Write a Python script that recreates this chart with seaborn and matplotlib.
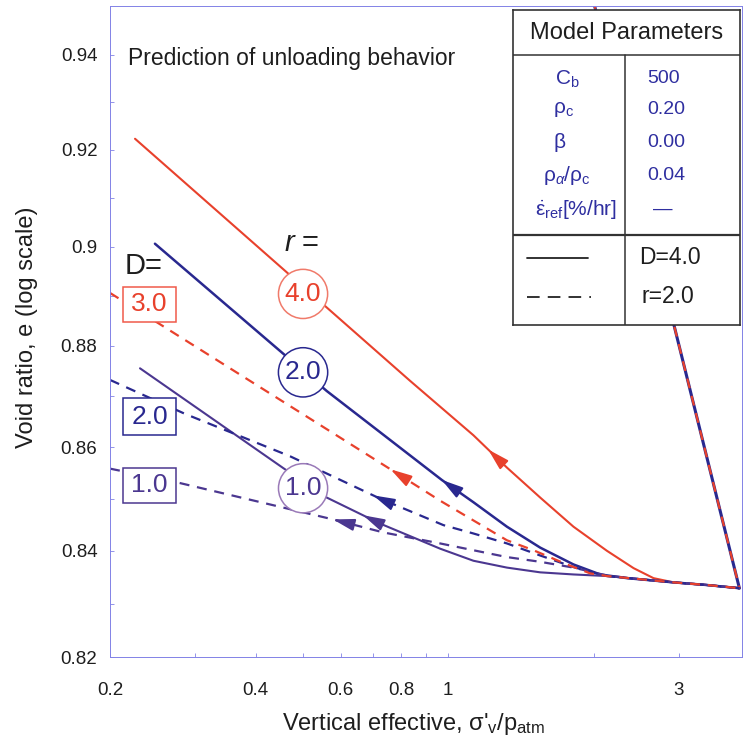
import numpy as np
import pandas as pd
import matplotlib
matplotlib.use("Agg")
import matplotlib.pyplot as plt
from matplotlib.patches import Rectangle
from matplotlib.ticker import FixedLocator, FixedFormatter, NullLocator
import seaborn as sns

# ---------------------------------------------------------------------------
# Data: vertical effective stress ratio (sigma'_v / p_atm) and void ratio e
# ---------------------------------------------------------------------------
# loading (normal compression) branch up to the turnaround point
load_sig = [1.97, 4.0]
load_e = [0.9540, 0.8329]

# unloading paths with D = 4.0 and varying r (solid)
r40_sig = [0.2253, 0.8347, 1.128, 1.323, 1.550, 1.816, 2.129, 2.417, 2.658, 2.924, 3.428, 4.0]
r40_e = [0.9223, 0.8730, 0.8623, 0.8560, 0.8502, 0.8446, 0.8400, 0.8367, 0.8348, 0.8340, 0.8335, 0.8329]

r20_sig = [0.2477, 0.4563, 0.5612, 0.7233, 0.9705, 1.128, 1.323, 1.550, 1.816, 2.062, 2.342, 2.924, 3.428, 4.0]
r20_e = [0.9006, 0.8784, 0.8710, 0.8629, 0.8536, 0.8493, 0.8446, 0.8406, 0.8374, 0.8355, 0.8348, 0.8340, 0.8335, 0.8329]

r10_sig = [0.2307, 0.4563, 0.5612, 0.7233, 0.9626, 1.128, 1.323, 1.550, 1.816, 2.129, 2.495, 2.924, 3.428, 4.0]
r10_e = [0.8755, 0.8559, 0.8502, 0.8452, 0.8404, 0.8381, 0.8368, 0.8359, 0.8355, 0.8352, 0.8346, 0.8340, 0.8335, 0.8329]

# unloading paths with r = 2.0 and varying D (dashed)
d30_sig = [0.2, 0.2537, 0.7833, 0.9626, 1.128, 1.323, 1.501, 1.760, 1.967, 2.129, 2.495, 2.924, 3.428, 4.0]
d30_e = [0.8906, 0.8843, 0.8549, 0.8496, 0.8458, 0.8420, 0.8401, 0.8374, 0.8357, 0.8352, 0.8346, 0.8340, 0.8335, 0.8329]

d20_sig = [0.2, 0.2858, 0.4713, 0.7233, 0.978, 1.128, 1.323, 1.550, 1.816, 1.967, 2.129, 2.495, 2.924, 3.428, 4.0]
d20_e = [0.8732, 0.8665, 0.8582, 0.8500, 0.8449, 0.8433, 0.8414, 0.8391, 0.8369, 0.8360, 0.8352, 0.8346, 0.8340, 0.8335, 0.8329]

d10_sig = [0.2, 0.2791, 0.578, 0.7351, 0.9626, 1.128, 1.323, 1.550, 1.816, 2.129, 2.495, 2.924, 3.428, 4.0]
d10_e = [0.8558, 0.8530, 0.8460, 0.8435, 0.8414, 0.8401, 0.8388, 0.8379, 0.8368, 0.8353, 0.8346, 0.8340, 0.8335, 0.8329]

# stress ratio at which the direction arrow sits on each path
arrow_at = {"r4.0": 1.21, "r2.0": 0.97, "r1.0": 0.667,
            "D3.0": 0.76, "D2.0": 0.70, "D1.0": 0.578}

x_ticks = [0.2, 0.3, 0.4, 0.5, 0.6, 0.7, 0.8, 0.9, 1, 2, 3]
x_tick_labels = ["0.2", "", "0.4", "", "0.6", "", "0.8", "", "1", "", "3"]
y_ticks = [0.82, 0.83, 0.84, 0.85, 0.86, 0.87, 0.88, 0.89, 0.90, 0.91, 0.92, 0.93, 0.94]
y_tick_labels = ["0.82", "", "0.84", "", "0.86", "", "0.88", "", "0.9", "", "0.92", "", "0.94"]

param_names = [r"C$_{\mathrm{b}}$", r"ρ$_{\mathrm{c}}$", "β",
               r"ρ$_{\alpha}$/ρ$_{\mathrm{c}}$", r"$\dot{\mathrm{ε}}_{\mathrm{ref}}$[%/hr]"]
param_values = ["500", "0.20", "0.00", "0.04", "—"]

# ---------------------------------------------------------------------------
RED = "#e8412c"
BLUE = "#29288f"
PURPLE = "#4b3790"
TXT = "#1e1e1e"
PBLUE = "#2f2fa0"
SPINE = "#8282e6"

sns.set_theme(style="white")
plt.rcParams["font.family"] = ["Liberation Sans", "DejaVu Sans"]
plt.rcParams["mathtext.fontset"] = "custom"
plt.rcParams["mathtext.rm"] = "Liberation Sans"
plt.rcParams["mathtext.it"] = "Liberation Sans:italic"
plt.rcParams["mathtext.bf"] = "Liberation Sans:bold"

W = 751
fig = plt.figure(figsize=(W / 100, W / 100), dpi=100)
fig.patch.set_facecolor("white")


def fx(p):
    return p / W


def fy(p):
    return 1 - p / W


ax = fig.add_axes([fx(110), fy(657), 632 / W, 651 / W])
ax.set_xscale("log")
ax.set_yscale("log")
ax.set_xlim(0.2, 4.05)
ax.set_ylim(0.82, 0.9505)

DASH = (0, (4.5, 3.5))
paths = {
    "r4.0": (r40_sig, r40_e, RED, "-", 1.5),
    "r2.0": (r20_sig, r20_e, BLUE, "-", 1.8),
    "r1.0": (r10_sig, r10_e, PURPLE, "-", 1.5),
    "D1.0": (d10_sig, d10_e, PURPLE, DASH, 1.6),
    "D2.0": (d20_sig, d20_e, BLUE, DASH, 1.6),
    "D3.0": (d30_sig, d30_e, RED, DASH, 1.6),
}

frames = [pd.DataFrame({"sigma": s, "e": e, "path": k}) for k, (s, e, *_rest) in paths.items()]
frames.append(pd.DataFrame({"sigma": load_sig, "e": load_e, "path": "load"}))
df = pd.concat(frames, ignore_index=True)

# loading branch: solid navy with red dashes over it
sub = df[df.path == "load"]
sns.lineplot(data=sub, x="sigma", y="e", sort=False, estimator=None,
             color=BLUE, lw=2.2, ax=ax)
sns.lineplot(data=sub, x="sigma", y="e", sort=False, estimator=None,
             color=RED, lw=1.6, linestyle=DASH, ax=ax)

for key, (s, e, c, ls, lw) in paths.items():
    sub = df[df.path == key]
    sns.lineplot(data=sub, x="sigma", y="e", sort=False, estimator=None,
                 color=c, lw=lw, linestyle=ls, ax=ax)
    # direction arrow pointing toward decreasing stress
    ls_ = np.log10(s)
    le_ = np.log10(e)
    xt = arrow_at[key]
    xs = xt * 1.04
    et = 10 ** np.interp(np.log10(xt), ls_, le_)
    es = 10 ** np.interp(np.log10(xs), ls_, le_)
    ax.annotate("", xy=(xt, et), xytext=(xs, es),
                arrowprops=dict(arrowstyle="-|>,head_length=1.0,head_width=0.28",
                                color=c, lw=1.4, mutation_scale=13,
                                shrinkA=0, shrinkB=0))

ax.set_xlabel("")
ax.set_ylabel("")

ax.xaxis.set_major_locator(FixedLocator(x_ticks))
ax.xaxis.set_major_formatter(FixedFormatter(x_tick_labels))
ax.xaxis.set_minor_locator(NullLocator())
ax.yaxis.set_major_locator(FixedLocator(y_ticks))
ax.yaxis.set_major_formatter(FixedFormatter(y_tick_labels))
ax.yaxis.set_minor_locator(NullLocator())
ax.tick_params(axis="both", which="major", direction="in", length=3, width=0.6,
               color=SPINE, labelcolor=TXT, labelsize=13.5,
               bottom=True, left=True, top=False, right=False)
ax.tick_params(axis="x", pad=18)
ax.tick_params(axis="y", pad=9)
for sp in ax.spines.values():
    sp.set_color(SPINE)
    sp.set_linewidth(0.7)

# titles and axis labels
ax.text(0.0285, 0.9186, "Prediction of unloading behavior", transform=ax.transAxes,
        ha="left", va="center", fontsize=16.5, color=TXT)
fig.text(fx(282), fy(730), r"Vertical effective, σ'$_{\mathrm{v}}$/p$_{\mathrm{atm}}$",
         ha="left", va="baseline", fontsize=17, color=TXT)
fig.text(fx(27), fy(327), "Void ratio, e (log scale)", rotation=90,
         ha="center", va="center", fontsize=17, color=TXT)

# r labels in circles
ax.text(0.3038, 0.6359, r"$r$ =", transform=ax.transAxes, ha="center", va="center",
        fontsize=21, color=TXT)
for val, ey, c, ec in [("4.0", 0.8904, RED, "#f07a6a"),
                       ("2.0", 0.8747, BLUE, BLUE),
                       ("1.0", 0.8520, PURPLE, "#9a7ab8")]:
    ax.text(0.5013, ey, val, ha="center", va="center", fontsize=19, color=c, zorder=4,
            bbox=dict(boxstyle="circle,pad=0.24", fc="white", ec=ec, lw=1.1))

# D labels in boxes
ax.text(0.0538, 0.6006, "D=", transform=ax.transAxes, ha="center", va="center",
        fontsize=21, color=TXT)
for val, y0, y1, c, ec in [("3.0", 0.5146, 0.5684, RED, "#f05a4a"),
                           ("2.0", 0.3410, 0.3978, BLUE, BLUE),
                           ("1.0", 0.2366, 0.2903, PURPLE, PURPLE)]:
    ax.add_patch(Rectangle((0.0206, y0), 0.0838, y1 - y0, transform=ax.transAxes,
                           fc="white", ec=ec, lw=1.1, zorder=4))
    ax.text(0.0625, (y0 + y1) / 2, val, transform=ax.transAxes, ha="center",
            va="center", fontsize=19, color=c, zorder=5)

# parameter table
tab = fig.add_axes([fx(513), fy(325), 227 / W, 315 / W], zorder=5)
tab.set_facecolor("white")
tab.set_xlim(0, 1)
tab.set_ylim(0, 1)
tab.set_xticks([])
tab.set_yticks([])
for sp in tab.spines.values():
    sp.set_color("#333333")
    sp.set_linewidth(1.2)
    sp.set_visible(True)
tab.plot([0, 1], [0.857, 0.857], color="#333333", lw=1.1)
tab.plot([0, 1], [0.286, 0.286], color="#333333", lw=1.6)
tab.plot([0.493, 0.493], [0, 0.857], color="#333333", lw=1.1)
tab.text(0.502, 0.927, "Model Parameters", ha="center", va="center", fontsize=17, color=TXT)

name_x = [0.185, 0.176, 0.18, 0.132, 0.097]
row_y = [0.781, 0.683, 0.578, 0.474, 0.368]
for nm, xv, yv in zip(param_names, name_x, row_y):
    tab.text(xv, yv, nm, ha="left", va="center", fontsize=15, color=PBLUE)
for v, yv in zip(param_values, row_y):
    if v == "—":
        tab.text(0.661, yv, v, ha="center", va="center", fontsize=14, color=PBLUE)
    else:
        tab.text(0.590, yv, v, ha="left", va="center", fontsize=14, color=PBLUE)

tab.plot([0.062, 0.330], [0.213, 0.213], color="#222222", lw=1.3)
tab.plot([0.062, 0.345], [0.089, 0.089], color="#222222", lw=1.3, linestyle=(0, (7, 4.5)))
tab.text(0.555, 0.213, "D=4.0", ha="left", va="center", fontsize=16.5, color=TXT)
tab.text(0.564, 0.089, "r=2.0", ha="left", va="center", fontsize=16.5, color=TXT)

fig.savefig("out.png", dpi=100)
